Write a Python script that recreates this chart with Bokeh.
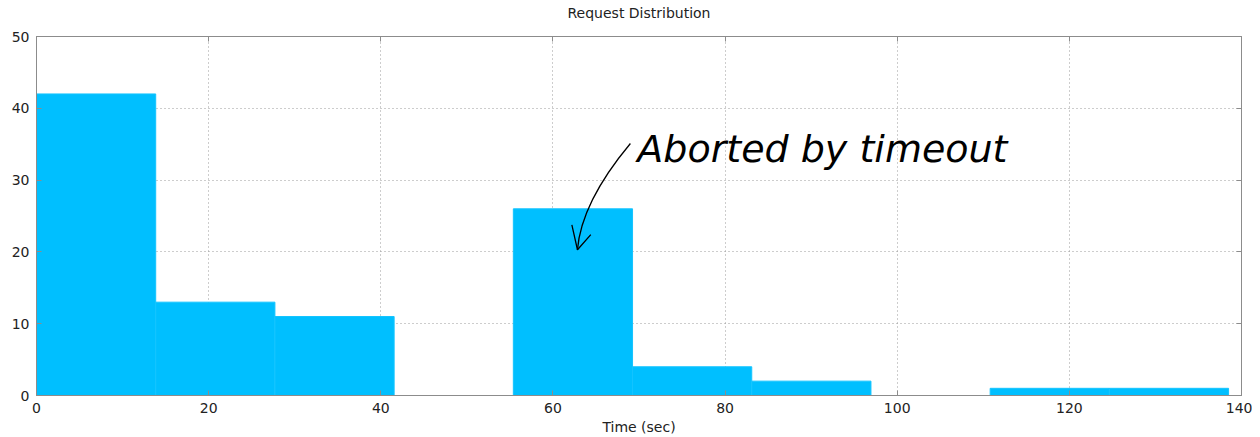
from bokeh.plotting import figure
from bokeh.models import LinearAxis, FixedTicker, Label, Range1d, Title
from bokeh.embed import file_html
from bokeh.resources import INLINE

# Histogram data
bin_edges = [0, 13.85, 27.7, 41.55, 55.4, 69.25, 83.1, 96.95, 110.8, 124.65, 138.5]
counts = [42, 13, 11, 0, 26, 4, 2, 0, 1, 1]
x_ticks = [0, 20, 40, 60, 80, 100, 120, 140]
y_ticks = [0, 10, 20, 30, 40, 50]

title_text = "Request Distribution"

# Annotation
note_text = "Aborted by timeout"
note_pos = (69.8, 34.3)
arrow_start = (69.0, 35.1)
arrow_ctrl1 = (65.8, 30.5)
arrow_ctrl2 = (63.2, 25.5)
arrow_end = (62.85, 20.3)
head_a = (62.2, 23.75)
head_b = (64.4, 22.4)

AXC = "#8c8c8c"
TXT = "#222222"
p = figure(width=1252, height=437, output_backend="svg", toolbar_location=None,
           x_range=Range1d(0, 140), y_range=Range1d(0, 50),
           min_border_left=36, min_border_right=11, min_border_top=36, min_border_bottom=41)
p.title = Title(text=title_text, align="center",
                text_font="DejaVu Sans", text_font_size="14px", text_font_style="normal",
                text_color=TXT, standoff=0, offset=3,
                padding=dict(left=0, right=0, top=0, bottom=16))

p.quad(left=bin_edges[:-1], right=bin_edges[1:], bottom=0, top=counts,
       fill_color="#00BFFF", line_color="#14C4FF", line_width=1)

def style(ax, labels=True):
    ax.axis_line_color = AXC
    ax.major_tick_line_color = AXC
    ax.major_tick_in = 5
    ax.major_tick_out = 0
    ax.minor_tick_line_color = None
    ax.major_label_text_font = "DejaVu Sans"
    ax.major_label_text_font_size = "14px"
    ax.major_label_text_color = TXT
    if not labels:
        ax.major_label_text_font_size = "0px"
        ax.major_label_text_color = None

p.xaxis.ticker = FixedTicker(ticks=x_ticks)
p.yaxis.ticker = FixedTicker(ticks=y_ticks)
style(p.xaxis[0])
style(p.yaxis[0])
p.xaxis.major_label_standoff = 7
p.yaxis.major_label_standoff = 7
p.xaxis.axis_label = "Time (sec)"
p.xaxis.axis_label_text_font = "DejaVu Sans"
p.xaxis.axis_label_text_font_size = "14px"
p.xaxis.axis_label_text_font_style = "normal"
p.xaxis.axis_label_text_color = TXT
p.xaxis.axis_label_standoff = 3

top = LinearAxis(ticker=FixedTicker(ticks=x_ticks))
style(top, labels=False)
p.add_layout(top, "above")
right = LinearAxis(ticker=FixedTicker(ticks=y_ticks))
style(right, labels=False)
p.add_layout(right, "right")

p.xgrid.ticker = FixedTicker(ticks=x_ticks)
p.ygrid.ticker = FixedTicker(ticks=y_ticks)
for g in (p.xgrid[0], p.ygrid[0]):
    g.grid_line_color = "#9a9a9a"
    g.grid_line_dash = "1 3"
    g.grid_line_width = 1

p.outline_line_color = AXC

p.bezier(x0=[arrow_start[0]], y0=[arrow_start[1]], x1=[arrow_end[0]], y1=[arrow_end[1]],
         cx0=[arrow_ctrl1[0]], cy0=[arrow_ctrl1[1]], cx1=[arrow_ctrl2[0]], cy1=[arrow_ctrl2[1]],
         line_color="black", line_width=1.3)
p.multi_line(xs=[[head_a[0], arrow_end[0], head_b[0]]], ys=[[head_a[1], arrow_end[1], head_b[1]]],
             line_color="black", line_width=1.3)

p.add_layout(Label(x=note_pos[0], y=note_pos[1], text=note_text, text_font="DejaVu Sans",
                   text_font_size="38px", text_font_style="italic", text_color="black",
                   text_baseline="alphabetic"))

open("out.html", "w").write(file_html(p, INLINE))
